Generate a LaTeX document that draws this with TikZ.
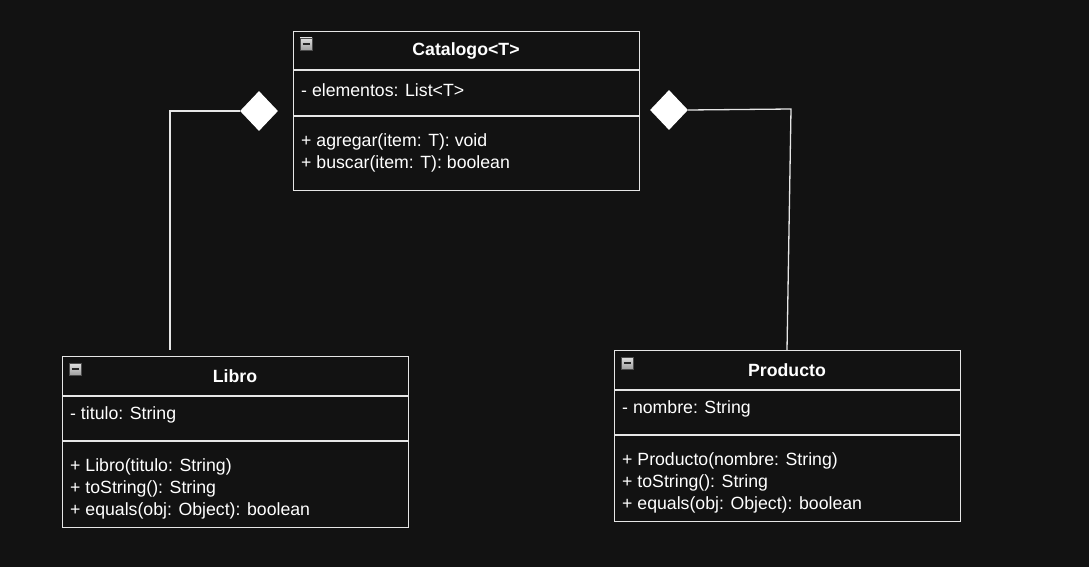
\documentclass[tikz,border=0pt]{standalone}
\usepackage{fontspec}
\setmainfont{Liberation Sans}
\usetikzlibrary{shapes.geometric}
\definecolor{bgc}{HTML}{121212}
\definecolor{linec}{HTML}{E6E6E6}
\tikzset{
  umlbox/.style={draw=linec, line width=1.3pt, fill=bgc, anchor=north west, minimum width=346pt, inner sep=0pt},
  sepline/.style={draw=linec, line width=1.3pt},
  title/.style={text=white, font=\fontsize{17.7}{21}\selectfont\bfseries, inner sep=0pt},
  member/.style={text=white, font=\fontsize{17.7}{21}\selectfont, anchor=west, inner sep=0pt},
  conn/.style={draw=linec, line width=1.3pt},
  agg/.style={diamond, fill=white, draw=none, minimum width=38pt, minimum height=40pt, inner sep=0pt},
  iconbox/.style={draw=gray!60!black, line width=0.6pt, top color=gray!25, bottom color=gray!75, minimum size=12pt, inner sep=0pt},
}
\newcommand{\collapseicon}[2]{%
  \node[iconbox] (#1) at #2 {};
  \draw[black!85, line width=1.6pt] ([xshift=-3.5pt]#1.center) -- ([xshift=3.5pt]#1.center);
}
\begin{document}
\begin{tikzpicture}[x=1pt,y=-1pt]
\fill[bgc] (0,0) rectangle (1089,567);
\useasboundingbox (0,0) rectangle (1089,567);

% Catalogo
\node[umlbox, minimum height=159pt] (cat) at (293,31) {};
\draw[sepline] (293,70) -- (639,70);
\draw[sepline] (293,116) -- (639,116);
\collapseicon{icat}{(306,44)}
\node[title] (catt) at (466,51) {Catalogo<T>};
\node[member] (cata) at (301,90) {- elementos: List<T>};
\node[member] (catm1) at (301,142) {+ agregar(item: T): void};
\node[member] (catm2) at (301,164) {+ buscar(item: T): boolean};

% Libro
\node[umlbox, minimum height=171pt] (lib) at (62,356) {};
\draw[sepline] (62,396) -- (408,396);
\draw[sepline] (62,441) -- (408,441);
\collapseicon{ilib}{(75,369)}
\node[title] (libt) at (235,376) {Libro};
\node[member] (liba) at (70,415) {- titulo: String};
\node[member] (libm1) at (70,467) {+ Libro(titulo: String)};
\node[member] (libm2) at (70,489) {+ toString(): String};
\node[member] (libm3) at (70,511) {+ equals(obj: Object): boolean};

% Producto
\node[umlbox, minimum height=171pt] (prod) at (614,350) {};
\draw[sepline] (614,390) -- (960,390);
\draw[sepline] (614,435) -- (960,435);
\collapseicon{iprod}{(627,363)}
\node[title] (prodt) at (787,370) {Producto};
\node[member] (proda) at (622,409) {- nombre: String};
\node[member] (prodm1) at (622,461) {+ Producto(nombre: String)};
\node[member] (prodm2) at (622,483) {+ toString(): String};
\node[member] (prodm3) at (622,505) {+ equals(obj: Object): boolean};

% aggregation connectors
\node[agg] (d1) at (259,111) {};
\node[agg] (d2) at (669,110) {};
\coordinate (l1) at (170,350);
\coordinate (r1) at (791,109);
\coordinate (r2) at (787,350);
\draw[conn] (d1.west) -| (l1);
\draw[conn] (d2.east) -- (r1) -- (r2);
\end{tikzpicture}
\end{document}
